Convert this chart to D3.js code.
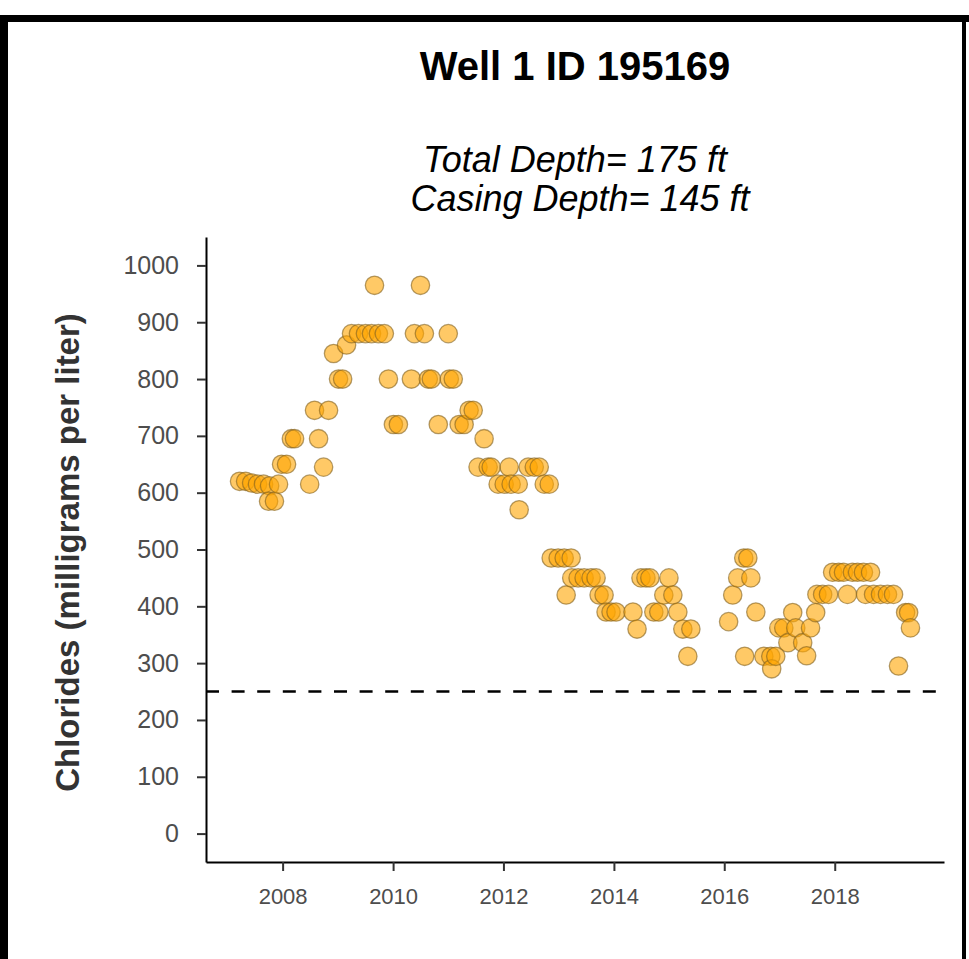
<!DOCTYPE html>
<html>
<head>
<meta charset="utf-8">
<script src="https://cdn.jsdelivr.net/npm/d3@7"></script>
<style>
  html, body { margin: 0; padding: 0; background: #fff; }
  svg { display: block; font-family: "Liberation Sans", Arial, sans-serif; }
</style>
</head>
<body>
<div id="art"></div>
<script type="text/javascript">
// sample dates and chloride readings (mg/L)
var sampleDates = [
  "2007-03-22","2007-05-01","2007-06-10","2007-07-19","2007-08-28","2007-10-07","2007-09-30","2007-11-08",
  "2007-12-05","2007-12-25","2008-01-27","2008-02-28","2008-03-20","2008-06-28","2008-07-30","2008-08-26",
  "2008-09-28","2008-10-31","2008-12-03","2009-01-05","2009-02-01","2009-02-27","2009-04-01","2009-05-17",
  "2009-07-02","2009-08-11","2009-08-31","2009-09-26","2009-11-04","2009-12-01","2010-01-03","2010-02-05",
  "2010-05-02","2010-05-22","2010-07-01","2010-07-27","2010-08-22","2010-09-11","2010-10-27","2011-01-01",
  "2011-01-08","2011-02-03","2011-03-14","2011-04-16","2011-05-19","2011-06-15","2011-07-17","2011-08-26",
  "2011-09-22","2011-10-12","2011-11-27","2012-01-06","2012-02-08","2012-02-21","2012-04-08","2012-04-14",
  "2012-06-13","2012-07-23","2012-08-25","2012-09-27","2012-10-30","2012-11-12","2012-12-28","2013-02-06",
  "2013-02-19","2013-03-24","2013-03-28","2013-05-09","2013-06-18","2013-08-03","2013-09-05","2013-09-25",
  "2013-10-28","2013-11-10","2013-12-13","2014-01-15","2014-05-07","2014-06-03","2014-06-29","2014-08-01",
  "2014-08-27","2014-09-22","2014-10-25","2014-11-27","2014-12-31","2015-01-26","2015-02-28","2015-04-02",
  "2015-05-05","2015-05-25","2016-01-30","2016-02-26","2016-03-30","2016-05-09","2016-05-15","2016-06-05",
  "2016-06-25","2016-07-28","2016-09-19","2016-11-04","2016-11-10","2016-12-07","2016-12-27","2017-01-29",
  "2017-02-25","2017-03-29","2017-04-18","2017-06-03","2017-06-29","2017-07-25","2017-08-28","2017-09-05",
  "2017-10-13","2017-11-21","2017-12-18","2018-01-27","2018-02-28","2018-03-26","2018-04-28","2018-06-01",
  "2018-07-10","2018-08-26","2018-07-24","2018-09-15","2018-10-31","2018-12-16","2019-01-25","2019-02-27",
  "2019-04-15","2019-05-05","2019-05-17"
];
var chlorides = [
  620,620,617,615,615,612,585,585,
  615,650,650,695,695,615,745,695,
  645,745,845,800,800,860,880,880,
  880,880,965,880,880,800,720,720,
  800,880,965,880,800,800,720,880,
  800,800,720,720,745,745,645,695,
  645,645,615,615,645,615,615,570,
  645,645,645,615,615,485,485,485,
  420,485,450,450,450,450,450,420,
  420,390,390,390,390,360,450,450,
  450,390,390,420,450,420,390,360,
  312,360,373,420,450,485,312,485,
  450,390,312,312,290,312,362,362,
  336,389,362,336,313,362,389,421,
  421,421,460,460,460,421,460,460,
  460,460,421,421,421,421,421,295,
  389,389,362
];
var yTicks = [0, 100, 200, 300, 400, 500, 600, 700, 800, 900, 1000];
var xTickYears = [2008, 2010, 2012, 2014, 2016, 2018];
var threshold = 250;
var title = "Well 1 ID 195169";
var subtitle = ["Total Depth= 175 ft", " Casing Depth= 145 ft"];
var yLabel = "Chlorides (milligrams per liter)";

var W = 969, H = 959,
    pLeft = 206, pRight = 944, pTop = 237, pBottom = 862;

var parse = d3.timeParse("%Y-%m-%d");
var points = sampleDates.map(function (d, i) { return { date: parse(d), value: chlorides[i] }; });

// ggplot style 5% expansion on the time axis
var ext = d3.extent(points, function (d) { return d.date; });
var pad = (ext[1] - ext[0]) * 0.05;
var x = d3.scaleTime()
    .domain([new Date(+ext[0] - pad), new Date(+ext[1] + pad)])
    .range([pLeft, pRight]);
var y = d3.scaleLinear()
    .domain([-50, 1050])
    .range([pBottom, pTop]);

var svg = d3.select("#art").append("svg")
    .attr("width", W)
    .attr("height", H);

svg.append("rect").attr("width", W).attr("height", H).attr("fill", "#fff");

// outer frame (cropped at the bottom)
svg.append("rect").attr("x", 0).attr("y", 15).attr("width", W).attr("height", 7).attr("fill", "#000");
svg.append("rect").attr("x", 0).attr("y", 15).attr("width", 8).attr("height", H).attr("fill", "#000");
svg.append("rect").attr("x", 962).attr("y", 15).attr("width", 4).attr("height", H).attr("fill", "#000");

// titles
var cx = (pLeft + pRight) / 2;
svg.append("text")
    .attr("x", cx).attr("y", 80)
    .attr("text-anchor", "middle")
    .style("font-size", "40px").style("font-weight", "bold")
    .text(title);

svg.selectAll("text.sub")
    .data(subtitle)
  .enter().append("text")
    .attr("class", "sub")
    .attr("x", cx)
    .attr("y", function (d, i) { return 172 + i * 39; })
    .attr("text-anchor", "middle")
    .style("font-size", "36px").style("font-style", "italic")
    .style("white-space", "pre")
    .text(function (d) { return d; });

// threshold line
svg.append("line")
    .attr("x1", pLeft).attr("x2", pRight)
    .attr("y1", y(threshold)).attr("y2", y(threshold))
    .attr("stroke", "#000").attr("stroke-width", 2.5)
    .attr("stroke-dasharray", "13,12.6");

// points
svg.append("g").selectAll("circle")
    .data(points)
  .enter().append("circle")
    .attr("cx", function (d) { return x(d.date); })
    .attr("cy", function (d) { return y(d.value); })
    .attr("r", 9.2)
    .attr("fill", "orange").attr("fill-opacity", 0.6)
    .attr("stroke", "#806020").attr("stroke-opacity", 0.6)
    .attr("stroke-width", 1.3);

// axes
var yAxis = d3.axisLeft(y).tickValues(yTicks).tickFormat(d3.format("d"))
    .tickSize(9).tickPadding(18).tickSizeOuter(0);
var xAxis = d3.axisBottom(x)
    .tickValues(xTickYears.map(function (yr) { return new Date(yr, 0, 1); }))
    .tickFormat(d3.timeFormat("%Y"))
    .tickSize(9).tickPadding(17).tickSizeOuter(0);

var gy = svg.append("g").attr("transform", "translate(" + pLeft + ",0)").call(yAxis);
var gx = svg.append("g").attr("transform", "translate(0," + pBottom + ")").call(xAxis);

[gx, gy].forEach(function (g) {
  g.select(".domain").attr("stroke", "#000").attr("stroke-width", 2);
  g.selectAll(".tick line").attr("stroke", "#333").attr("stroke-width", 2);
  g.selectAll(".tick text").attr("fill", "#4d4d4d")
    .style("font-family", "'Liberation Sans', Arial, sans-serif");
});
gy.selectAll(".tick text").style("font-size", "25px");
gx.selectAll(".tick text").style("font-size", "22px");

svg.append("text")
    .attr("transform", "translate(67," + ((pTop + pBottom) / 2 + 3) + ") rotate(-90)")
    .attr("text-anchor", "middle")
    .attr("dy", "0.35em")
    .style("font-size", "33px").style("font-weight", "bold")
    .attr("fill", "#333")
    .text(yLabel);
</script>
</body>
</html>
